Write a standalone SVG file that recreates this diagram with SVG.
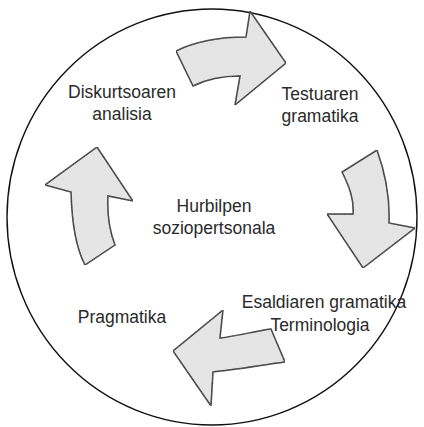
<svg xmlns="http://www.w3.org/2000/svg" width="424" height="427" viewBox="0 0 424 427">
  <style>
    .ring { fill: none; stroke: #111; stroke-width: 1.4; }
    .arrow { fill: #e8e8e8; stroke: #111; stroke-width: 1.5; stroke-linejoin: miter; }
    .label { font-family: "Liberation Sans", Arial, sans-serif; font-size: 17.5px; fill: #2a2a2a; text-anchor: middle; }
  </style>
  <defs>
    <filter id="grain" x="0" y="0" width="100%" height="100%">
      <feTurbulence type="fractalNoise" baseFrequency="0.9" numOctaves="1" seed="3" result="noise"/>
      <feColorMatrix in="noise" type="matrix" values="0 0 0 0 0.6  0 0 0 0 0.6  0 0 0 0 0.6  0 0 0 0.25 0" result="dots"/>
      <feComposite in="dots" in2="SourceGraphic" operator="in" result="clipped"/>
      <feMerge><feMergeNode in="SourceGraphic"/><feMergeNode in="clipped"/></feMerge>
    </filter>
  </defs>

  <rect width="424" height="427" fill="#fff"/>

  <!-- outer ring -->
  <ellipse class="ring" cx="212" cy="217" rx="205" ry="208"/>

  <!-- cycle arrows -->
  <g id="connectors">
    <path id="arrow-top" class="arrow" filter="url(#grain)" d="M176,51 C192,43 215,37 246,37 L250,11 L286,63 L235,105 L240,76 C222,76 205,80 193,86 Z"/>
    <path id="arrow-right" class="arrow" filter="url(#grain)" d="M342,172 C350,188 354,200 353,214 L327,214 L363,268 L415,228 L389,223 C390,200 386,175 377,150 Z"/>
    <path id="arrow-bottom" class="arrow" filter="url(#grain)" d="M223,310 L220,338 C238,336 255,331 271,329 L285,362 C262,365 235,370 213,372 L211,406 L173,351 Z"/>
    <path id="arrow-left" class="arrow" filter="url(#grain)" d="M97,147 L133,201 L108,196 C107,215 110,232 115,245 L85,265 C77,250 72,230 71,192 L45,185 Z"/>
  </g>

  <!-- stages -->
  <g id="node-diskurtsoa">
    <text class="label" x="122" y="98">Diskurtsoaren</text>
    <text class="label" x="122" y="120">analisia</text>
  </g>
  <g id="node-testua">
    <text class="label" x="320" y="100">Testuaren</text>
    <text class="label" x="320" y="122">gramatika</text>
  </g>
  <g id="node-hurbilpen">
    <text class="label" x="214" y="212">Hurbilpen</text>
    <text class="label" x="214" y="234">soziopertsonala</text>
  </g>
  <g id="node-esaldia">
    <text class="label" x="324" y="308">Esaldiaren gramatika</text>
    <text class="label" x="320" y="331">Terminologia</text>
  </g>
  <g id="node-pragmatika">
    <text class="label" x="122" y="323">Pragmatika</text>
  </g>
</svg>
